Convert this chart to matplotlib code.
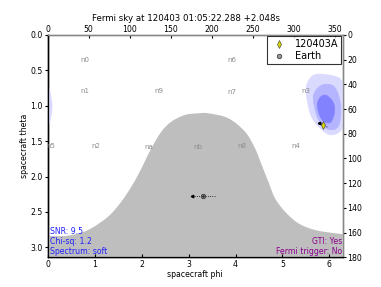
import numpy as np
import matplotlib
matplotlib.use('Agg')
import matplotlib.pyplot as plt
from matplotlib.path import Path
from matplotlib.patches import PathPatch

# Earth occultation edge (spacecraft phi [rad], theta [rad])
earth_phi = [0.0, 0.432, 0.858, 1.284, 1.568, 1.781, 1.923, 2.066, 2.207, 2.420,
             2.633, 2.918, 3.201, 3.421, 3.847, 4.202, 4.415, 4.558, 4.699, 4.842,
             5.055, 5.338, 5.693, 6.119, 6.283]
earth_theta = [2.841, 2.836, 2.756, 2.568, 2.356, 2.144, 1.979, 1.791, 1.602, 1.367,
               1.225, 1.131, 1.107, 1.107, 1.177, 1.367, 1.601, 1.837, 2.073, 2.308,
               2.497, 2.661, 2.756, 2.802, 2.812]

# localisation contours (outer -> inner)
loc_outer_phi = [5.729, 6.083, 6.247, 6.332, 6.375, 6.311, 6.190, 5.977, 5.729, 5.587, 5.502, 5.565]
loc_outer_theta = [0.555, 0.579, 0.636, 0.806, 1.032, 1.258, 1.381, 1.403, 1.262, 1.098, 0.791, 0.636]
loc_mid_phi = [5.906, 6.119, 6.241, 6.190, 5.977, 5.764, 5.657, 5.729]
loc_mid_theta = [0.697, 0.745, 1.003, 1.286, 1.333, 1.191, 0.909, 0.767]
loc_in_phi = [5.928, 6.083, 6.104, 6.013, 5.836, 5.742, 5.800]
loc_in_theta = [0.852, 0.957, 1.098, 1.239, 1.191, 1.003, 0.886]

grb_name = '120403A'
grb_phi, grb_theta = 5.857, 1.276
grb_track_phi = [5.772, 5.977]
grb_track_theta = [1.239, 1.310]
earth_pos_phi, earth_pos_theta, earth_err = 3.314, 2.275, 0.24

# NaI detectors: azimuth, zenith [deg]
det_names = ['n0', 'n1', 'n2', 'n3', 'n4', 'n5', 'n6', 'n7', 'n8', 'n9', 'na', 'nb']
det_az = [45.89, 45.11, 58.44, 314.87, 303.15, 3.35, 224.93, 224.62, 236.61, 135.19, 123.73, 183.74]
det_zen = [20.58, 45.31, 90.21, 45.24, 90.27, 89.79, 20.43, 46.18, 89.97, 45.55, 90.42, 90.32]

info_left = ['SNR: 9.5', 'Chi-sq: 1.2', 'Spectrum: soft']
info_right = ['GTI: Yes', 'Fermi trigger: No']
title = 'Fermi sky at 120403 01:05:22.288 +2.048s'


def bezier_segments(p, closed):
    # cubic bezier pieces passing through the read points (catmull-rom handles)
    n = len(p)
    verts, codes = [], []
    last = n if closed else n - 1
    for i in range(last):
        a = p[(i - 1) % n] if (closed or i > 0) else p[i]
        b = p[i]
        c = p[(i + 1) % n]
        d = p[(i + 2) % n] if (closed or i + 2 < n) else c
        verts += [b + (c - a) / 6, c - (d - b) / 6, c]
        codes += [Path.CURVE4] * 3
    return verts, codes


def smooth_closed(xs, ys):
    p = np.column_stack([xs, ys])
    verts, codes = bezier_segments(p, True)
    return Path([p[0]] + verts, [Path.MOVETO] + codes)


def smooth_edge_fill(xs, ys, base):
    p = np.column_stack([xs, ys])
    verts, codes = bezier_segments(p, False)
    verts = [(xs[0], base), p[0]] + verts + [(xs[-1], base), (xs[0], base)]
    codes = [Path.MOVETO, Path.LINETO] + codes + [Path.LINETO, Path.CLOSEPOLY]
    return Path(verts, codes)


fs = 5.6
fig = plt.figure(figsize=(3.81, 2.87), dpi=100)
ax = fig.add_axes([0.1252, 0.1035, 0.7743, 0.7746])

ax.add_patch(PathPatch(smooth_edge_fill(earth_phi, earth_theta, np.pi),
                       fc='#bebebe', ec='none', zorder=1))

for phis, thetas, col in [(loc_outer_phi, loc_outer_theta, '#dadaff'),
                          (loc_mid_phi, loc_mid_theta, '#b4b4ff'),
                          (loc_in_phi, loc_in_theta, '#8282ff')]:
    for shift in (0, -2 * np.pi):
        ax.add_patch(PathPatch(smooth_closed(np.array(phis) + shift, thetas),
                               fc=col, ec=col, lw=0.5, zorder=2))

for name, az, zen in zip(det_names, det_az, det_zen):
    ax.text(np.radians(az), np.radians(zen), name, ha='center', va='center',
            fontsize=5, color='#8c8c8c', clip_on=True, zorder=3)

ax.plot(grb_track_phi, grb_track_theta, ls=':', lw=0.6, color='k', zorder=4)
ax.plot(grb_track_phi[0], grb_track_theta[0], marker='<', ms=1.8, color='k', zorder=4)
ax.plot(grb_phi, grb_theta, ls='none', marker='d', ms=3.8, mfc='#d8d800', mec='#333333',
        mew=0.4, label=grb_name, zorder=5)

ax.plot([earth_pos_phi - earth_err, earth_pos_phi + earth_err], [earth_pos_theta] * 2,
        ls=':', lw=0.6, color='k', zorder=4)
ax.plot(earth_pos_phi - earth_err, earth_pos_theta, marker='<', ms=1.8, color='k', zorder=4)
ax.plot(earth_pos_phi, earth_pos_theta, ls='none', marker='o', ms=3.2, mfc='#9a9a9a',
        mec='#404040', mew=0.6, label='Earth', zorder=5)
ax.plot(earth_pos_phi, earth_pos_theta, ls='none', marker='o', ms=0.9, color='#303030', zorder=6)

ax.text(0.008, 0.004, '\n'.join(info_left), transform=ax.transAxes, ha='left', va='bottom',
        fontsize=fs, color='#2020ff', zorder=6)
ax.text(0.998, 0.004, '\n'.join(info_right), transform=ax.transAxes, ha='right', va='bottom',
        fontsize=fs, color='#8b008b', multialignment='right', zorder=6)

ax.set_xlim(0, 2 * np.pi)
ax.set_ylim(np.pi, 0)
ax.set_xticks(range(7))
ax.set_yticks(np.arange(0, 3.01, 0.5))
ax.set_xlabel('spacecraft phi', fontsize=fs, labelpad=1)
ax.set_ylabel('spacecraft theta', fontsize=fs, labelpad=1)
ax.tick_params(axis='x', direction='in', length=2.5, pad=2, labelsize=fs)
ax.tick_params(axis='y', direction='out', length=2.5, pad=1, labelsize=fs)

leg = ax.legend(loc='upper right', fontsize=7, numpoints=1, fancybox=False,
                borderaxespad=0.15, handletextpad=0.6, borderpad=0.3, labelspacing=0.2)
leg.get_frame().set_edgecolor('k')
leg.get_frame().set_linewidth(0.8)

ax2 = ax.twiny()
ax2.set_xlim(0, 360)
ax2.set_xticks(range(0, 351, 50))
ax2.tick_params(axis='x', direction='in', length=2.5, pad=1, labelsize=fs)

ax3 = ax.twinx()
ax3.set_ylim(180, 0)
ax3.set_yticks(range(0, 181, 20))
ax3.tick_params(axis='y', direction='out', length=2.5, pad=1, labelsize=fs)

for a in (ax, ax2, ax3):
    a.spines['top'].set_color('#888888')
    a.spines['right'].set_color('#888888')
    a.spines['left'].set_color('k')
    a.spines['bottom'].set_color('k')
    for s in a.spines.values():
        s.set_linewidth(0.9)

ax.set_zorder(ax3.get_zorder() + 1)
ax.patch.set_visible(False)

fig.text(0.488, 0.937, title, ha='center', va='center', fontsize=6.2)

fig.savefig('out.png', dpi=100)
